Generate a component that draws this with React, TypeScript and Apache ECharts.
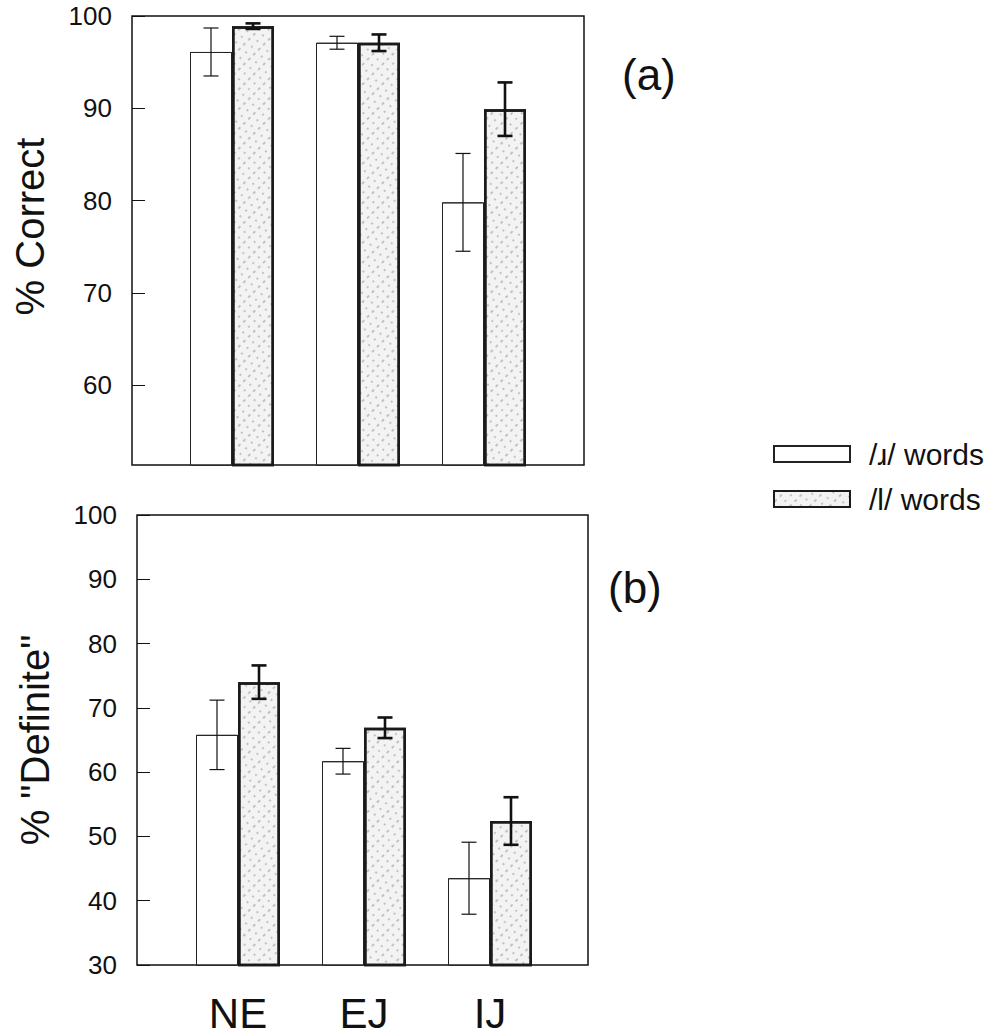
import React, { useEffect, useRef } from "react";
import * as echarts from "echarts";

const categories = ["NE", "EJ", "IJ"];
const seriesNames = ["/ɹ/ words", "/l/ words"];

// Panel (a): % Correct
const correctR = [96.1, 97.1, 79.8];
const correctRErr = [2.6, 0.7, 5.3];
const correctL = [98.9, 97.1, 89.9];
const correctLErr = [0.3, 0.9, 2.9];

// Panel (b): % "Definite"
const definiteR = [65.8, 61.7, 43.5];
const definiteRErr = [5.4, 2.0, 5.6];
const definiteL = [74.0, 66.9, 52.4];
const definiteLErr = [2.6, 1.6, 3.7];

const topTicks = [60, 70, 80, 90, 100];
const topMin = 51.33;
const topMax = 100;
const bottomMin = 30;
const bottomMax = 100;

const FONT = "'Liberation Sans', Arial, Helvetica, sans-serif";

const whiteStyle = { color: "#ffffff", borderColor: "#222", borderWidth: 1, decal: { symbol: "none" } };
const grayStyle = {
  color: "#f3f3f3",
  borderColor: "#1a1a1a",
  borderWidth: 2.5,
  decal: {
    symbol: "rect",
    symbolSize: 1,
    dashArrayX: [[3, 4], [2, 6]],
    dashArrayY: [1.2, 4.5],
    rotation: -Math.PI / 4,
    color: "rgba(0,0,0,0.2)",
  },
};

function errRender(lineWidth: number) {
  return (params: any, api: any) => {
    const idx = api.value(0);
    const v = api.value(1);
    const e = api.value(2);
    const side = api.value(3);
    const band = api.size([1, 0])[0];
    const off = (side * band) / 6;
    const hi = api.coord([idx, v + e]);
    const lo = api.coord([idx, v - e]);
    const x = hi[0] + off;
    const cap = 7.5;
    const style = { stroke: "#111", lineWidth };
    return {
      type: "group",
      children: [
        { type: "line", shape: { x1: x, y1: hi[1], x2: x, y2: lo[1] }, style },
        { type: "line", shape: { x1: x - cap, y1: hi[1], x2: x + cap, y2: hi[1] }, style },
        { type: "line", shape: { x1: x - cap, y1: lo[1], x2: x + cap, y2: lo[1] }, style },
      ],
    };
  };
}

function errData(vals: number[], errs: number[], side: number) {
  return vals.map((v, i) => [i, v, errs[i], side]);
}

export default function App() {
  const ref = useRef<HTMLDivElement>(null);
  useEffect(() => {
    if (!ref.current) return;
    const chart = echarts.init(ref.current, undefined, { renderer: "svg" });
    const frameY = (min: number, max: number, gridIndex: number, name: string, custom: boolean, pad: number) => ({
      type: "value",
      gridIndex,
      min,
      max,
      interval: custom ? undefined : 10,
      name,
      nameLocation: "middle",
      nameRotate: 90,
      nameGap: 82,
      nameTextStyle: { fontFamily: FONT, fontSize: 40, color: "#111", padding: [0, 0, 0, pad] },
      axisLine: { show: false },
      splitLine: { show: false },
      axisTick: {
        show: true,
        inside: true,
        length: 13,
        lineStyle: { color: "#111", width: 1 },
        ...(custom ? { customValues: topTicks } : {}),
      },
      axisLabel: {
        show: true,
        margin: 20,
        fontFamily: FONT,
        fontSize: 26,
        color: "#111",
        ...(custom ? { customValues: topTicks } : {}),
      },
    });
    const hiddenY = (min: number, max: number, gridIndex: number) => ({
      type: "value",
      gridIndex,
      min,
      max,
      show: false,
      splitLine: { show: false },
    });
    const option: any = {
      animation: false,
      backgroundColor: "#ffffff",
      aria: { enabled: true, decal: { show: true } },
      grid: [
        { left: 132, top: 16, width: 452, height: 449, show: true, borderColor: "#111", borderWidth: 1.5, backgroundColor: "transparent" },
        { left: 169, top: 16, width: 378, height: 449 },
        { left: 137, top: 515, width: 451, height: 450, show: true, borderColor: "#111", borderWidth: 1.5, backgroundColor: "transparent" },
        { left: 175, top: 515, width: 378, height: 450 },
      ],
      xAxis: [
        { type: "category", gridIndex: 0, data: categories, show: false },
        { type: "category", gridIndex: 1, data: categories, show: false },
        { type: "category", gridIndex: 2, data: categories, show: false },
        {
          type: "category",
          gridIndex: 3,
          data: categories,
          axisLine: { show: false },
          axisTick: { show: false },
          axisLabel: { margin: 27, fontFamily: FONT, fontSize: 42, color: "#111", lineHeight: 42 },
        },
      ],
      yAxis: [
        frameY(topMin, topMax, 0, "% Correct", true, 28),
        hiddenY(topMin, topMax, 1),
        frameY(bottomMin, bottomMax, 2, '% "Definite"', false, 0),
        hiddenY(bottomMin, bottomMax, 3),
      ],
      legend: {
        left: 773,
        top: 439,
        padding: 0,
        orient: "vertical",
        itemWidth: 76,
        itemHeight: 16,
        itemGap: 15,
        icon: "rect",
        data: seriesNames,
        textStyle: { fontFamily: FONT, fontSize: 30, color: "#111", lineHeight: 30, padding: [0, 0, 0, 14] },
      },
      graphic: [
        { type: "text", left: 622, top: 52, style: { text: "(a)", font: `44px ${FONT}`, fill: "#111" } },
        { type: "text", left: 608, top: 565, style: { text: "(b)", font: `44px ${FONT}`, fill: "#111" } },
      ],
      series: [
        { name: seriesNames[0], type: "bar", xAxisIndex: 1, yAxisIndex: 1, data: correctR, barWidth: 42, barGap: "0%", itemStyle: whiteStyle },
        { name: seriesNames[1], type: "bar", xAxisIndex: 1, yAxisIndex: 1, data: correctL, barWidth: 42, barGap: "0%", itemStyle: grayStyle },
        { name: seriesNames[0], type: "bar", xAxisIndex: 3, yAxisIndex: 3, data: definiteR, barWidth: 42, barGap: "0%", itemStyle: whiteStyle },
        { name: seriesNames[1], type: "bar", xAxisIndex: 3, yAxisIndex: 3, data: definiteL, barWidth: 42, barGap: "0%", itemStyle: grayStyle },
        { name: "errR_a", type: "custom", xAxisIndex: 1, yAxisIndex: 1, z: 5, renderItem: errRender(1.2), data: errData(correctR, correctRErr, -1), encode: { x: 0, y: 1 } },
        { name: "errL_a", type: "custom", xAxisIndex: 1, yAxisIndex: 1, z: 5, renderItem: errRender(2.6), data: errData(correctL, correctLErr, 1), encode: { x: 0, y: 1 } },
        { name: "errR_b", type: "custom", xAxisIndex: 3, yAxisIndex: 3, z: 5, renderItem: errRender(1.2), data: errData(definiteR, definiteRErr, -1), encode: { x: 0, y: 1 } },
        { name: "errL_b", type: "custom", xAxisIndex: 3, yAxisIndex: 3, z: 5, renderItem: errRender(2.6), data: errData(definiteL, definiteLErr, 1), encode: { x: 0, y: 1 } },
      ],
    };
    chart.setOption(option);
    return () => chart.dispose();
  }, []);
  return <div ref={ref} style={{ position: "fixed", left: 0, top: 0, width: 1007, height: 1036 }} />;
}
